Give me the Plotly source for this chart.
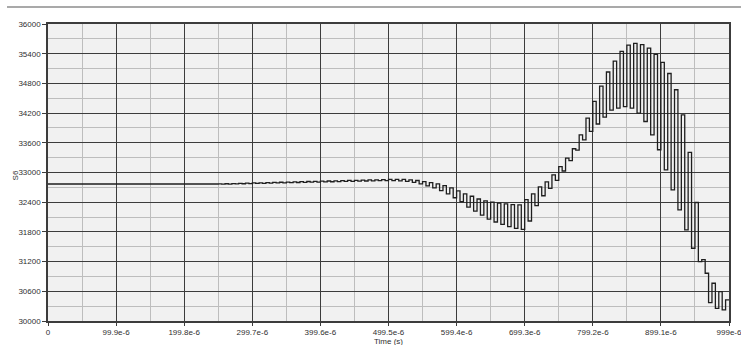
import numpy as np
import plotly.graph_objects as go

# S6 level held over each half-period (4.995 us) of the 0 .. 999 us record
s6_steps = [
    32768, 32768, 32768, 32768, 32768, 32768, 32768, 32768, 32768, 32768,
    32768, 32768, 32768, 32768, 32768, 32768, 32768, 32768, 32768, 32768,
    32768, 32768, 32768, 32768, 32768, 32768, 32768, 32768, 32768, 32768,
    32768, 32768, 32768, 32768, 32768, 32768, 32768, 32768, 32768, 32768,
    32768, 32768, 32768, 32768, 32768, 32768, 32768, 32768, 32768, 32768,
    32771, 32766, 32773, 32767, 32777, 32770, 32781, 32773, 32785, 32776,
    32789, 32779, 32792, 32782, 32796, 32786, 32799, 32789, 32803, 32792,
    32807, 32795, 32810, 32798, 32814, 32801, 32818, 32804, 32821, 32807,
    32825, 32810, 32828, 32813, 32832, 32816, 32835, 32819, 32839, 32822,
    32842, 32825, 32846, 32828, 32850, 32831, 32853, 32834, 32857, 32837,
    32860, 32835, 32862, 32832, 32860, 32822, 32852, 32800, 32838, 32770,
    32815, 32730, 32795, 32690, 32770, 32635, 32735, 32570, 32690, 32490,
    32630, 32410, 32570, 32300, 32520, 32220, 32465, 32140, 32425, 32060,
    32400, 32000, 32380, 31950, 32365, 31905, 32350, 31870, 32345, 31850,
    32450, 32020, 32570, 32330, 32710, 32530, 32810, 32680, 32950, 32840,
    33120, 33030, 33290, 33240, 33480, 33450, 33760, 33660, 34100, 33830,
    34436, 33980, 34745, 34120, 35030, 34260, 35250, 34300, 35446, 34330,
    35575, 34300, 35610, 34200, 35585, 34030, 35514, 33760, 35385, 33460,
    35224, 33055, 35000, 32650, 34672, 32245, 34166, 31840, 33405, 31470,
    32394, 31200, 31240, 30965, 30372, 30763, 30257, 30594, 30223, 30426,
]

half_period = 4.995e-6

# Axis ticks
x_tick_vals = [0, 99.9e-6, 199.8e-6, 299.7e-6, 399.6e-6, 499.5e-6,
               599.4e-6, 699.3e-6, 799.2e-6, 899.1e-6, 999e-6]
x_tick_text = ["0", "99.9e-6", "199.8e-6", "299.7e-6", "399.6e-6", "499.5e-6",
               "599.4e-6", "699.3e-6", "799.2e-6", "899.1e-6", "999e-6"]
y_tick_vals = [30000, 30600, 31200, 31800, 32400, 33000, 33600,
               34200, 34800, 35400, 36000]

# step edges: one extra point so the last level runs to the axis end
t = np.arange(len(s6_steps) + 1) * half_period
y = s6_steps + [s6_steps[-1]]

x_minor = [(a + b) / 2 for a, b in zip(x_tick_vals[:-1], x_tick_vals[1:])]
y_minor = [(a + b) / 2 for a, b in zip(y_tick_vals[:-1], y_tick_vals[1:])]

fig = go.Figure()
fig.add_trace(go.Scatter(
    x=t, y=y, mode="lines", line_shape="hv",
    line=dict(color="#1e1e1e", width=1.3),
    showlegend=False, hoverinfo="skip",
))

text_color = "#303030"
tick_font = dict(family="Arial", size=8, color=text_color)
fig.update_layout(
    width=741, height=345,
    margin=dict(l=48, r=12, t=24, b=24),
    paper_bgcolor="white",
    plot_bgcolor="#f1f1f1",
    font=dict(family="Arial", size=8, color=text_color),
    xaxis=dict(
        range=[0, 999e-6], tickmode="array", automargin=False,
        tickvals=x_tick_vals, ticktext=x_tick_text, tickfont=tick_font,
        ticklabeloverflow="allow",
        showgrid=True, gridcolor="#3c3c3c", gridwidth=1.2,
        ticks="outside", ticklen=3, tickcolor="#3c3c3c",
        showline=True, linecolor="#3c3c3c", linewidth=1.5, mirror=True,
        zeroline=False,
        minor=dict(tickvals=x_minor, showgrid=True,
                   gridcolor="#bdbdbd", gridwidth=1, ticks=""),
    ),
    yaxis=dict(
        range=[30000, 36000], tickmode="array", automargin=False,
        tickvals=y_tick_vals, ticktext=[str(v) for v in y_tick_vals],
        tickfont=tick_font, ticklabeloverflow="allow",
        showgrid=True, gridcolor="#3c3c3c", gridwidth=1.2,
        ticks="outside", ticklen=4, tickcolor="#3c3c3c",
        showline=True, linecolor="#3c3c3c", linewidth=1.5, mirror=True,
        zeroline=False,
        minor=dict(tickvals=y_minor, showgrid=True,
                   gridcolor="#bdbdbd", gridwidth=1, ticks=""),
    ),
)

# axis titles
fig.add_annotation(text="Time (s)", xref="paper", yref="paper",
                   x=0.5007, y=-0.0674, xanchor="center", yanchor="middle",
                   showarrow=False, font=dict(family="Arial", size=8, color=text_color))
fig.add_annotation(text="S6", xref="paper", yref="paper", textangle=-90,
                   x=-0.0485, y=0.49, xanchor="center", yanchor="middle",
                   showarrow=False, font=dict(family="Arial", size=8, color=text_color))

# separator rule above the plot
fig.add_shape(type="line", xref="paper", yref="paper",
              x0=-0.0602, x1=1.0176, y0=1.0573, y1=1.0573,
              line=dict(color="#555555", width=1.2))

fig.write_html("out.html")
